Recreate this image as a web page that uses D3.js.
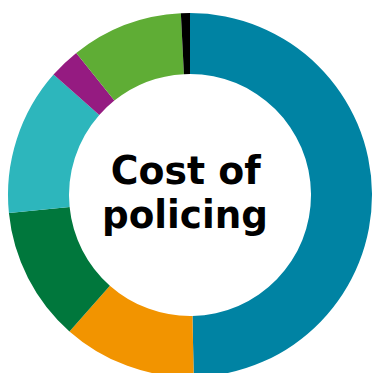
<!DOCTYPE html>
<html><head><meta charset="utf-8">
<script src="https://cdn.jsdelivr.net/npm/d3@7"></script>
<style>html,body{margin:0;padding:0;background:#fff;overflow:hidden}</style>
</head><body>
<svg id="chart" width="374" height="373"></svg>
<script>
const categories = ["Segment 1","Segment 2","Segment 3","Segment 4","Segment 5","Segment 6","Segment 7"];
const values = [49.7, 11.85, 11.9, 13.1, 2.75, 9.95, 0.8];
const colors = ["#0083A3","#F29400","#00773C","#2DB6BC","#951B81","#5FAD35","#000000"];
const titleLines = ["Cost of","policing"];

const svg = d3.select("#chart");
const cx = 190, cy = 195, outerR = 182, innerR = 121;
const g = svg.append("g").attr("transform", `translate(${cx},${cy})`);
const data = categories.map((c,i)=>({cat:c, value:values[i]}));
const pie = d3.pie().value(d=>d.value).sort(null);
const arc = d3.arc().innerRadius(innerR).outerRadius(outerR);
const color = d3.scaleOrdinal().domain(categories).range(colors);
g.selectAll("path").data(pie(data)).join("path")
  .attr("d", arc).attr("fill", d=>color(d.data.cat));

const lineLens = [150, 166];
const t = svg.append("text").attr("text-anchor","middle")
  .attr("font-family","'DejaVu Sans', sans-serif").attr("font-weight","bold")
  .attr("font-size",39).attr("fill","#000");
t.selectAll("tspan").data(titleLines).join("tspan")
  .attr("x",(d,i)=>i===0?185.7:185).attr("y",(d,i)=>183.5+i*44.5)
  .attr("textLength",(d,i)=>lineLens[i]).attr("lengthAdjust","spacingAndGlyphs")
  .text(d=>d);
</script>
</body></html>
